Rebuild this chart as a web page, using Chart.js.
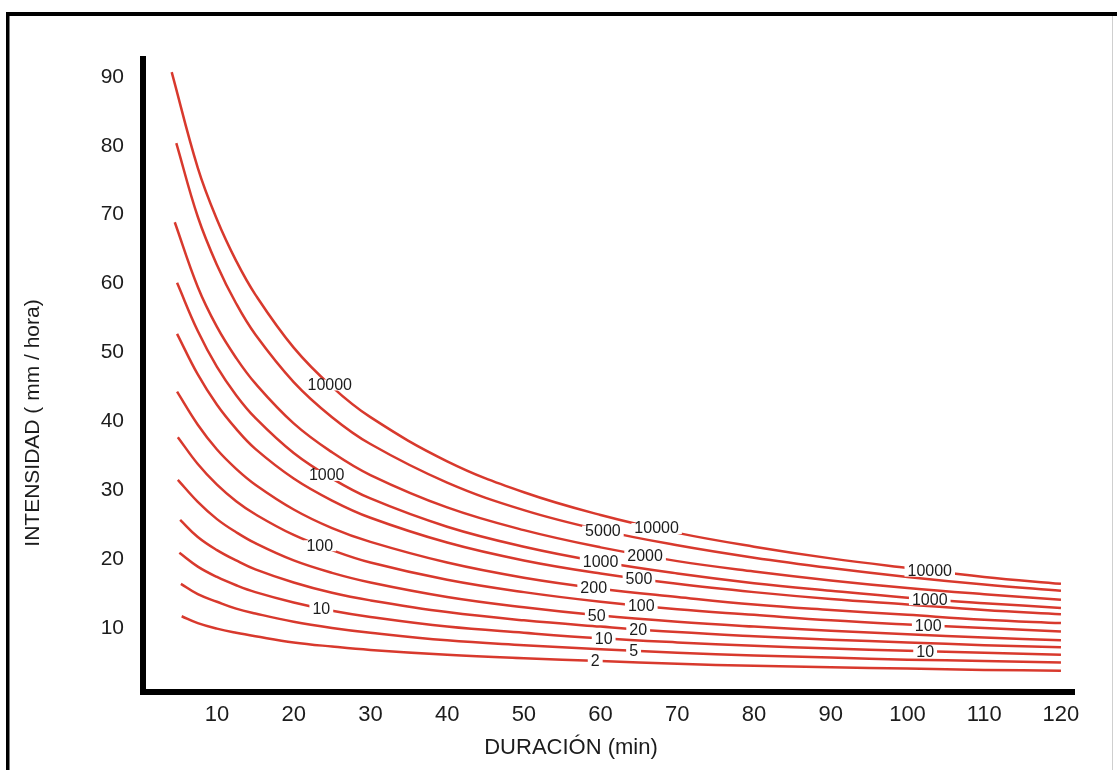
<!DOCTYPE html>
<html>
<head>
<meta charset="utf-8">
<script src="https://cdn.jsdelivr.net/npm/chart.js@4.4.0/dist/chart.umd.min.js"></script>
<style>
  html, body { margin: 0; padding: 0; background: #fff; }
  #wrap { width: 1117px; height: 770px; position: relative; }
</style>
</head>
<body>
<div id="wrap"><canvas id="idf" width="1117" height="770"></canvas></div>
<script>
// ==================== DATA ====================
const periods = ['10000', '5000', '2000', '1000', '500', '200', '100', '50', '20', '10', '5', '2'];
// first point of each curve (min), then the shared durations
const startX = [4.1, 4.7, 4.5, 4.8, 4.8, 4.8, 4.9, 4.9, 5.2, 5.1, 5.3, 5.4];
const durations = [7.5, 10, 12.5, 15, 20, 25, 30, 40, 50, 60, 70, 80, 90, 100, 110, 120];

const tr10000 = [90.7, 76.8, 69.3, 63.3, 58.4, 50.7, 45.0, 40.6, 34.2, 29.7, 26.4, 23.8, 21.8, 20.1, 18.7, 17.4, 16.4];
const tr5000  = [80.4, 69.7, 62.7, 57.1, 52.6, 45.7, 40.6, 36.7, 31.1, 27.1, 24.2, 22.0, 20.2, 18.7, 17.4, 16.3, 15.4];
const tr2000  = [68.9, 59.5, 53.7, 49.2, 45.5, 39.7, 35.5, 32.2, 27.5, 24.2, 21.7, 19.7, 18.2, 16.9, 15.8, 14.9, 14.1];
const tr1000  = [60.1, 53.1, 47.9, 43.8, 40.5, 35.4, 31.7, 28.8, 24.7, 21.8, 19.6, 17.9, 16.5, 15.4, 14.4, 13.6, 12.9];
const tr500   = [52.7, 46.8, 42.4, 38.9, 36.0, 31.7, 28.5, 26.0, 22.4, 19.8, 17.9, 16.4, 15.2, 14.2, 13.4, 12.6, 12.0];
const tr200   = [44.3, 39.5, 35.9, 33.1, 30.8, 27.2, 24.5, 22.5, 19.5, 17.3, 15.7, 14.5, 13.4, 12.6, 11.9, 11.2, 10.7];
const tr100   = [37.7, 33.8, 30.8, 28.4, 26.5, 23.5, 21.3, 19.5, 17.0, 15.2, 13.8, 12.7, 11.9, 11.1, 10.5, 10.0, 9.5];
const tr50    = [31.5, 28.3, 25.8, 23.9, 22.3, 19.8, 18.0, 16.6, 14.5, 13.0, 11.8, 10.9, 10.2, 9.6, 9.1, 8.6, 8.2];
const tr20    = [25.7, 23.2, 21.3, 19.8, 18.5, 16.6, 15.1, 14.0, 12.3, 11.1, 10.2, 9.4, 8.8, 8.3, 7.9, 7.5, 7.2];
const tr10    = [20.9, 18.9, 17.4, 16.2, 15.2, 13.7, 12.5, 11.6, 10.2, 9.3, 8.5, 7.9, 7.4, 7.0, 6.7, 6.4, 6.1];
const tr5     = [16.4, 14.9, 13.8, 12.8, 12.1, 10.9, 10.0, 9.3, 8.2, 7.5, 6.9, 6.4, 6.0, 5.7, 5.4, 5.2, 5.0];
const tr2     = [11.7, 10.7, 9.9, 9.3, 8.8, 7.9, 7.3, 6.8, 6.1, 5.6, 5.2, 4.8, 4.5, 4.3, 4.1, 3.9, 3.8];

const xTicks = [10, 20, 30, 40, 50, 60, 70, 80, 90, 100, 110, 120];
const yTicks = [10, 20, 30, 40, 50, 60, 70, 80, 90];

// curve labels: which return period, at which duration
const labelTexts = ['10000', '1000', '100', '10',
  '5000', '10000', '1000', '2000', '200', '500', '50', '100', '10', '20', '2', '5',
  '10000', '1000', '100', '10'];
const labelX = [24.7, 24.3, 23.4, 23.6,
  60.3, 67.3, 60.0, 65.8, 59.1, 65.0, 59.5, 65.3, 60.4, 64.9, 59.3, 64.3,
  102.9, 102.9, 102.7, 102.3];

const xTitle = 'DURACIÓN (min)';
const yTitle = 'INTENSIDAD ( mm / hora)';

// ==================== BUILD ====================
const series = [tr10000, tr5000, tr2000, tr1000, tr500, tr200, tr100, tr50, tr20, tr10, tr5, tr2];
const FONT = '"Liberation Sans", Arial, Helvetica, sans-serif';
const RED = '#d8392d';

const datasets = series.map((vals, i) => ({
  label: periods[i],
  data: vals.map((v, k) => ({ x: k === 0 ? startX[i] : durations[k - 1], y: v })),
  borderColor: RED,
  borderWidth: 2.5,
  pointRadius: 0,
  fill: false,
  tension: 0.4
}));

const valueAt = (data, x) => {
  for (let k = 0; k < data.length - 1; k++) {
    const a = data[k], b = data[k + 1];
    if (x >= a.x && x <= b.x) return a.y + (b.y - a.y) * (x - a.x) / (b.x - a.x);
  }
  return data[data.length - 1].y;
};

const framePlugin = {
  id: 'frame',
  beforeDraw(chart) {
    const ctx = chart.ctx;
    ctx.save();
    ctx.fillStyle = '#fff';
    ctx.fillRect(0, 0, chart.width, chart.height);
    ctx.fillStyle = '#000';
    ctx.fillRect(6, 12, chart.width - 6, 4);
    ctx.fillRect(6, 12, 3.5, chart.height - 12);
    ctx.fillStyle = '#cfcfcf';
    ctx.fillRect(1112, 16, 1, chart.height - 16);
    ctx.restore();
  }
};

const curveLabels = {
  id: 'curveLabels',
  afterDatasetsDraw(chart) {
    const { ctx, scales: { x, y } } = chart;
    ctx.save();
    ctx.font = '16px ' + FONT;
    ctx.textAlign = 'center';
    ctx.textBaseline = 'middle';
    labelTexts.forEach((txt, i) => {
      const ds = chart.data.datasets[periods.indexOf(txt)];
      const px = x.getPixelForValue(labelX[i]);
      const py = y.getPixelForValue(valueAt(ds.data, labelX[i]));
      const w = ctx.measureText(txt).width;
      ctx.fillStyle = '#fff';
      ctx.fillRect(px - w / 2 - 3, py - 5, w + 6, 11);
      ctx.fillStyle = '#1c1c1c';
      ctx.fillText(txt, px, py + 1);
    });
    ctx.restore();
  }
};

const axisTitles = {
  id: 'axisTitles',
  afterDraw(chart) {
    const ctx = chart.ctx;
    ctx.save();
    ctx.fillStyle = '#1c1c1c';
    ctx.font = '22px ' + FONT;
    ctx.textAlign = 'center';
    ctx.textBaseline = 'middle';
    ctx.fillText(xTitle, 571, 748);
    ctx.translate(33, 423);
    ctx.rotate(-Math.PI / 2);
    ctx.font = '21px ' + FONT;
    ctx.fillText(yTitle, 0, 0);
    ctx.restore();
  }
};

new Chart(document.getElementById('idf'), {
  type: 'line',
  data: { datasets },
  plugins: [framePlugin, curveLabels, axisTitles],
  options: {
    responsive: false,
    animation: false,
    layout: { padding: { top: 59, right: 43, left: 0, bottom: 0 } },
    plugins: { legend: { display: false }, tooltip: { enabled: false } },
    scales: {
      x: {
        type: 'linear',
        min: 0.36,
        max: 121.7,
        afterBuildTicks: s => { s.ticks = xTicks.map(v => ({ value: v })); },
        afterFit: s => { s.height = 78; },
        grid: { display: false, drawTicks: false },
        border: { display: true, width: 6, color: '#000' },
        ticks: { padding: 10, autoSkip: false, maxRotation: 0, color: '#1c1c1c', font: { family: FONT, size: 22 } }
      },
      y: {
        type: 'linear',
        min: 0.7,
        max: 92.6,
        afterBuildTicks: s => { s.ticks = yTicks.map(v => ({ value: v })); },
        afterFit: s => { s.width = 143; },
        grid: { display: false, drawTicks: false },
        border: { display: true, width: 6, color: '#000' },
        ticks: { padding: 19, color: '#1c1c1c', font: { family: FONT, size: 21 } }
      }
    }
  }
});
</script>
</body>
</html>
